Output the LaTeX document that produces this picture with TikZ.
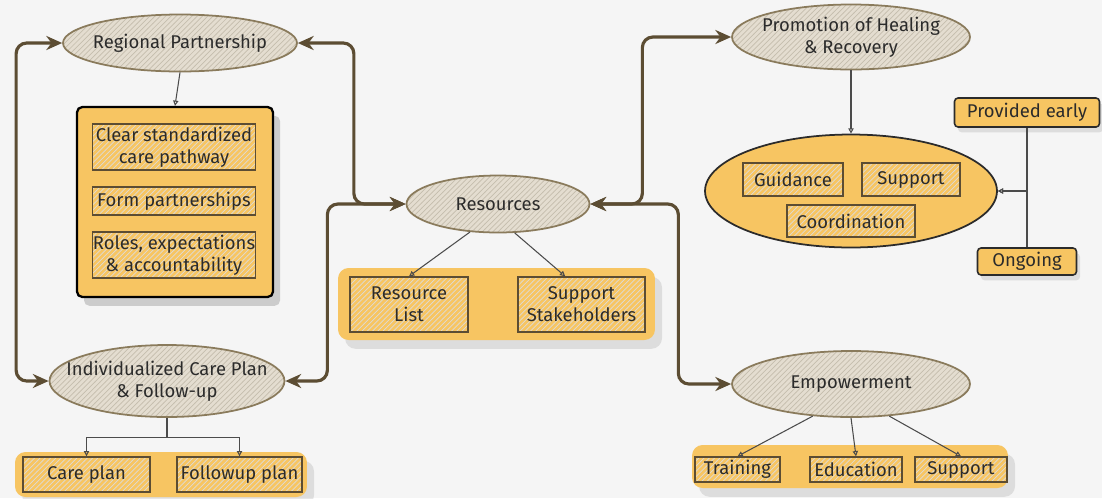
\documentclass[tikz,border=0pt]{standalone}
\usepackage{fontspec}
\setmainfont{Fira Sans}
\usetikzlibrary{arrows.meta,patterns,shadows,shapes.geometric}

\definecolor{paper}{HTML}{F5F5F5}
\definecolor{honey}{HTML}{F7C562}
\definecolor{oat}{HTML}{E4DDD0}
\definecolor{bark}{HTML}{5C4D33}
\definecolor{rim}{HTML}{8A7B5C}
\definecolor{ink}{HTML}{2B2B2B}

\begin{document}
\begin{tikzpicture}[x=0.02cm, y=-0.02cm
        , every node/.style={ font=\fontsize{10.5}{12.5}\selectfont, text=ink, align=center }
        , hub/.style={ ellipse, draw=rim, line width=1pt, inner xsep=-10pt, inner ysep=0pt,
              preaction={fill=oat}, preaction={pattern=north east lines, pattern color=rim!50} }
        , board/.style={ rectangle, draw=black, line width=1.3pt, fill=honey, rounded corners=3pt,
              drop shadow={shadow xshift=4pt, shadow yshift=-5pt, opacity=.35} }
        , tray/.style={ rectangle, rounded corners=6pt, fill=honey, inner sep=0pt,
              drop shadow={shadow xshift=4pt, shadow yshift=-5pt, opacity=.2} }
        , tag/.style={ rectangle, draw=bark, line width=.8pt, inner sep=0pt,
              preaction={fill=honey}, preaction={pattern=north east lines, pattern color=bark!20} }
        , note/.style={ rectangle, draw=ink, line width=.9pt, fill=honey, rounded corners=2pt, inner sep=0pt,
              drop shadow={shadow xshift=2pt, shadow yshift=-3pt, opacity=.2} }
        , trunk/.style={ draw=bark, line width=1.8pt, rounded corners=6pt,
              {Stealth[length=9pt,width=8pt]}-{Stealth[length=9pt,width=8pt]} }
        , feed/.style={ draw=ink!85, line width=.6pt, -{Triangle[open,length=3pt,width=3pt]} }
        ]

        \useasboundingbox[fill=paper] (0,0) rectangle (1102,498);

        % left column
        \node[hub, minimum width=4.68cm, minimum height=1.14cm] (rp) at (180,43) {Regional Partnership};
        \node[board, minimum width=3.92cm, minimum height=3.8cm] (board) at (175,202) {};
        \node[tag, minimum width=3.26cm, minimum height=.92cm] (path) at (174,147) {Clear standardized\\care pathway};
        \node[tag, minimum width=3.26cm, minimum height=.56cm] (form) at (174,201) {Form partnerships};
        \node[tag, minimum width=3.26cm, minimum height=.92cm] (roles) at (174,255) {Roles, expectations\\\& accountability};

        \node[hub, minimum width=4.66cm, minimum height=1.44cm] (icp) at (167,381) {Individualized Care Plan\\\& Follow-up};
        \node[tray, minimum width=5.84cm, minimum height=.9cm] (icptray) at (161,474.5) {};
        \node[tag, minimum width=2.54cm, minimum height=.7cm] (care) at (86.5,474.5) {Care plan};
        \node[tag, minimum width=2.5cm, minimum height=.7cm] (follow) at (239.5,474.5) {Followup plan};

        % middle
        \node[hub, minimum width=3.66cm, minimum height=1.14cm] (res) at (498,204) {Resources};
        \node[tray, minimum width=6.34cm, minimum height=1.44cm] (restray) at (496.5,304) {};
        \node[tag, minimum width=2.36cm, minimum height=1.1cm] (list) at (409,304.5) {Resource\\List};
        \node[tag, minimum width=2.54cm, minimum height=1.1cm] (stake) at (581.5,304.5) {Support\\Stakeholders};

        % right column
        \node[hub, minimum width=4.76cm, minimum height=1.3cm] (prom) at (851,37) {Promotion of Healing\\\& Recovery};
        \node[ellipse, draw=ink, line width=1pt, fill=honey, minimum width=5.84cm, minimum height=2.26cm] (aid) at (851,191) {};
        \node[tag, minimum width=2cm, minimum height=.66cm] (guide) at (793,179.5) {Guidance};
        \node[tag, minimum width=1.96cm, minimum height=.66cm] (back) at (911,179.5) {Support};
        \node[tag, minimum width=2.56cm, minimum height=.64cm] (coord) at (851,221) {Coordination};
        \node[note, minimum width=2.9cm, minimum height=.58cm] (early) at (1027,112.5) {Provided early};
        \node[note, minimum width=1.98cm, minimum height=.54cm] (ongoing) at (1027,261.5) {Ongoing};

        \node[hub, minimum width=4.76cm, minimum height=1.32cm] (emp) at (851,384) {Empowerment};
        \node[tray, minimum width=6.32cm, minimum height=.86cm] (emptray) at (850,466.5) {};
        \node[tag, minimum width=1.7cm, minimum height=.5cm] (train) at (737.5,469.5) {Training};
        \node[tag, minimum width=1.84cm, minimum height=.5cm] (edu) at (856,469.5) {Education};
        \node[tag, minimum width=1.84cm, minimum height=.5cm] (help) at (961,469.5) {Support};

        % main links between the hubs
        \draw[trunk] (rp.west) -- ++(-46,0) |- (icp.west);
        \draw[trunk] (rp.east) -- ++(56,0) |- (res.west);
        \draw[trunk] (icp.east) -- ++(42,0) |- (res.west);
        \draw[trunk] (res.east) -- ++(52,0) |- (prom.west);
        \draw[trunk] (res.east) -- ++(88,0) |- (emp.west);

        % each hub feeds its own items
        \draw[feed] (rp.south) -- (board.north);
        \draw[feed] (icp.south) -- ++(0,20) -| (care.north);
        \draw[feed] (icp.south) -- ++(0,20) -| (follow.north);
        \draw[feed] (res.225) -- (list.north);
        \draw[feed] (res.300) -- (stake.120);
        \draw[feed] (prom.south) -- (aid.north);
        \draw[feed] (early.south) |- (aid.east);
        \draw[feed] (ongoing.north) |- (aid.east);
        \draw[feed] (emp.220) -- (train.north);
        \draw[feed] (emp.south) -- (edu.north);
        \draw[feed] (emp.320) -- (help.north);

    \end{tikzpicture}
\end{document}
